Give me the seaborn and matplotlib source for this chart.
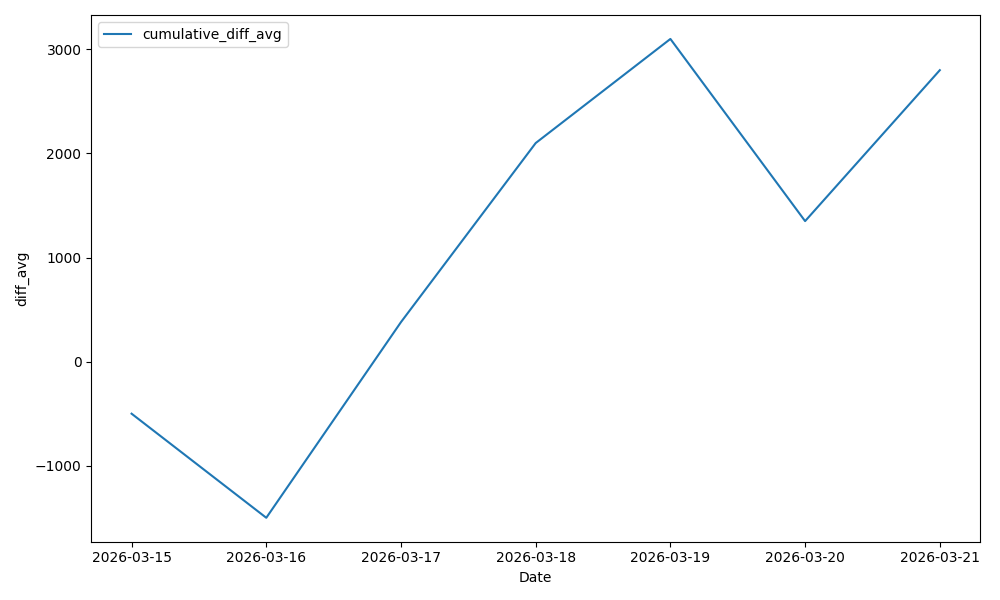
import matplotlib
matplotlib.use("Agg")
import matplotlib.pyplot as plt
import seaborn as sns
import pandas as pd

dates = ["2026-03-15", "2026-03-16", "2026-03-17", "2026-03-18",
         "2026-03-19", "2026-03-20", "2026-03-21"]
values = [-500, -1500, 380, 2100, 3100, 1350, 2800]

df = pd.DataFrame({"Date": pd.to_datetime(dates), "diff_avg": values})

fig, ax = plt.subplots(figsize=(10, 6), dpi=100)
sns.lineplot(data=df, x="Date", y="diff_avg", ax=ax, label="cumulative_diff_avg")
ax.set_xticks(df["Date"])
ax.set_xticklabels(dates)
ax.legend(loc="upper left")
fig.tight_layout()
fig.savefig("out.png")
